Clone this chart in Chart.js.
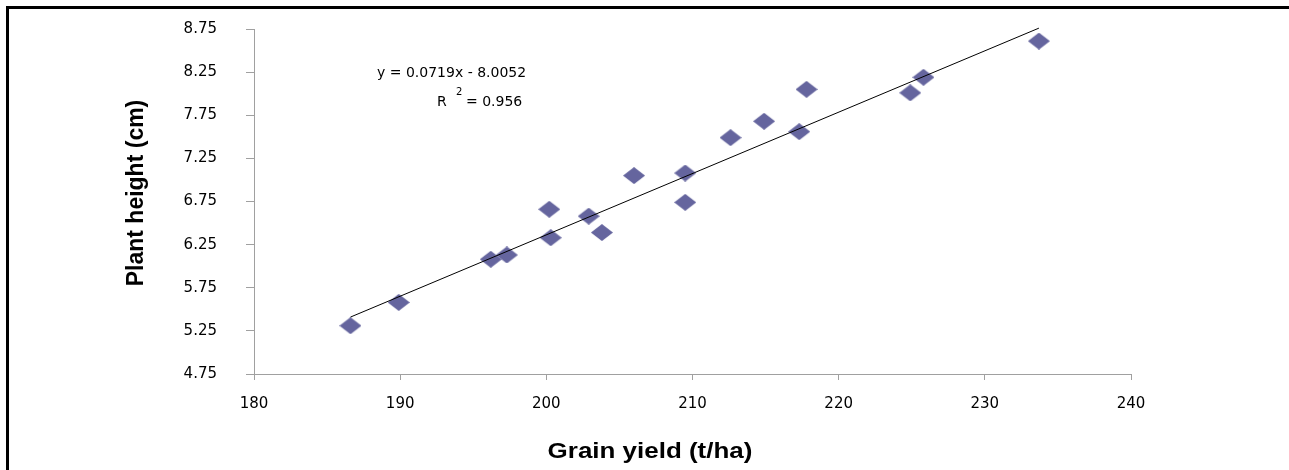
<!DOCTYPE html>
<html>
<head>
<meta charset="utf-8">
<script src="https://cdn.jsdelivr.net/npm/chart.js@4"></script>
<style>
  html, body { margin: 0; padding: 0; background: #fff; }
  #wrap { position: relative; width: 1289px; height: 470px; overflow: hidden; }
  #frame { position: absolute; left: 6px; top: 6px; right: -10px; bottom: -10px;
           border-top: 3px solid #000; border-left: 3px solid #000; }
</style>
</head>
<body>
<div id="wrap">
  <canvas id="myChart" width="1289" height="470"></canvas>
  <div id="frame"></div>
</div>
<script>
'use strict';

// grain yield (t/ha) and plant height (cm)
const grainYield = [186.6, 189.9, 196.2, 197.3, 200.3, 200.2, 202.9, 203.8, 206.0,
                    209.5, 209.5, 212.6, 214.9, 217.3, 217.8, 224.9, 225.8, 233.7];
const plantHeight = [5.31, 5.58, 6.08, 6.13, 6.33, 6.66, 6.58, 6.39, 7.05,
                     7.08, 6.74, 7.49, 7.68, 7.56, 8.05, 8.01, 8.19, 8.61];

// linear trend line end points
const trendX = [186.6, 233.7];
const trendY = [5.41, 8.76];

const xTickLabels = [180, 190, 200, 210, 220, 230, 240];
const yTickLabels = ['4.75', '5.25', '5.75', '6.25', '6.75', '7.25', '7.75', '8.25', '8.75'];

const equationText = 'y = 0.0719x - 8.0052';
const r2Text = '= 0.956';

// diamond marker, a bit wider than tall
const marker = document.createElement('canvas');
marker.width = 22;
marker.height = 17;
const mctx = marker.getContext('2d');
mctx.fillStyle = '#65659e';
mctx.beginPath();
mctx.moveTo(11, 0);
mctx.lineTo(22, 8.5);
mctx.lineTo(11, 17);
mctx.lineTo(0, 8.5);
mctx.closePath();
mctx.fill();

function drawText(ctx, text, x, y, font, sx, rot) {
  ctx.save();
  ctx.translate(x, y);
  if (rot) ctx.rotate(rot);
  ctx.scale(sx, 1);
  ctx.font = font;
  ctx.fillStyle = '#000';
  ctx.textAlign = 'center';
  ctx.textBaseline = 'middle';
  ctx.fillText(text, 0, 0);
  ctx.restore();
}

const labelsPlugin = {
  id: 'labels',
  afterDraw(chart) {
    const ctx = chart.ctx;
    const a = chart.chartArea;
    drawText(ctx, 'Grain yield (t/ha)', a.left + 396, a.bottom + 78, 'bold 22px "Liberation Sans", Arial', 1.18, 0);
    drawText(ctx, 'Plant height (cm)', a.left - 117, a.top + 164, 'bold 23px "Liberation Sans", Arial', 1, -Math.PI / 2);

    ctx.save();
    ctx.fillStyle = '#000';
    ctx.textAlign = 'left';
    ctx.textBaseline = 'middle';
    ctx.font = '14px "DejaVu Sans"';
    ctx.fillText(equationText, a.left + 123, a.top + 44);
    ctx.fillText('R', a.left + 183, a.top + 73);
    ctx.fillText(r2Text, a.left + 212, a.top + 73);
    ctx.font = '10px "DejaVu Sans"';
    ctx.fillText('2', a.left + 202, a.top + 63);
    ctx.restore();
  }
};

const points = grainYield.map((x, i) => ({ x: x, y: plantHeight[i] }));
const trend = trendX.map((x, i) => ({ x: x, y: trendY[i] }));

const axisColor = '#a0a0a0';
const tickFont = { family: 'DejaVu Sans', size: 15 };

const config = {
  type: 'scatter',
  data: {
    datasets: [
      {
        label: 'Plant height',
        data: points,
        pointStyle: marker,
        pointRadius: 10,
        order: 2,
      },
      {
        label: 'Linear',
        data: trend,
        showLine: true,
        borderColor: '#000',
        borderWidth: 1,
        pointRadius: 0,
        clip: false,
        order: 1,
      },
    ],
  },
  options: {
    responsive: false,
    animation: false,
    events: [],
    layout: { padding: { top: 29, right: 158, left: 0, bottom: 0 } },
    plugins: {
      legend: { display: false },
      tooltip: { enabled: false },
    },
    scales: {
      x: {
        type: 'linear',
        min: 180,
        max: 240,
        afterFit(scale) { scale.height = 96; },
        afterBuildTicks(scale) { scale.ticks = xTickLabels.map(v => ({ value: v })); },
        border: { display: true, color: axisColor, width: 1 },
        grid: { display: true, drawOnChartArea: false, drawTicks: true, tickLength: 6, color: axisColor },
        ticks: { color: '#000', font: tickFont, padding: 15, maxRotation: 0 },
      },
      y: {
        type: 'linear',
        min: 4.75,
        max: 8.75,
        afterFit(scale) {
          scale.width = 254;
          scale.paddingTop = 0;
          scale.paddingBottom = 0;
        },
        afterBuildTicks(scale) { scale.ticks = yTickLabels.map(v => ({ value: parseFloat(v) })); },
        border: { display: true, color: axisColor, width: 1 },
        grid: { display: true, drawOnChartArea: false, drawTicks: true, tickLength: 8, color: axisColor },
        ticks: {
          color: '#000',
          font: tickFont,
          padding: 29,
          callback: (v) => v.toFixed(2),
        },
      },
    },
  },
  plugins: [labelsPlugin],
};

const myChart = new Chart(document.getElementById('myChart'), config);
</script>
</body>
</html>
